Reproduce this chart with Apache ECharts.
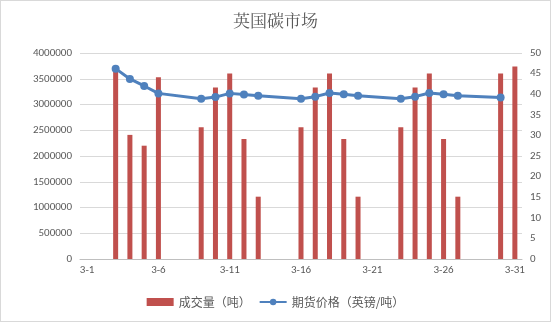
<!DOCTYPE html>
<html>
<head>
<meta charset="utf-8">
<script src="https://cdn.jsdelivr.net/npm/echarts@6/dist/echarts.min.js"></script>
<style>
  html, body { margin: 0; padding: 0; background: #fff; }
  #chart { width: 549px; height: 320px; border: 1px solid #d9d9d9; }
</style>
</head>
<body>
<div id="chart"></div>
<script>
// Trading days of March, one slot per calendar day
const days = [];
for (let d = 1; d <= 31; d++) days.push('3-' + d);

// Traded volume (tonnes); null on days without trading
const volume = [
  null, null, 3680000, 2410000, 2200000, 3530000, null, null, 2560000, 3330000,
  3600000, 2330000, 1210000, null, null, 2560000, 3330000, 3600000, 2330000, 1210000,
  null, null, 2560000, 3330000, 3600000, 2330000, 1210000, null, null, 3600000,
  3740000
];

// Futures price (GBP / tonne)
const price = [
  null, null, 46.2, 43.7, 42.0, 40.2, null, null, 38.9, 39.3,
  40.2, 39.9, 39.6, null, null, 38.9, 39.4, 40.3, 40.0, 39.6,
  null, null, 38.9, 39.4, 40.3, 40.0, 39.6, null, null, 39.2,
  null
];

const volumeTicks = { min: 0, max: 4000000, interval: 500000 };
const priceTicks = { min: 0, max: 50, interval: 5 };

const textColor = '#595959';
const gridColor = '#d9d9d9';
const cjk = '"Microsoft YaHei", "Noto Sans CJK SC", sans-serif';
const latin = 'Calibri, "Liberation Sans", sans-serif';

const chart = echarts.init(document.getElementById('chart'), null, { renderer: 'canvas' });
chart.setOption({
  animation: false,
  title: {
    text: '英国碳市场',
    left: 'center',
    top: 6,
    textStyle: { color: textColor, fontSize: 17, fontWeight: 'normal', fontFamily: '"Noto Serif CJK SC", "Noto Sans CJK SC", serif' }
  },
  legend: {
    bottom: 8,
    left: 'center',
    itemGap: 8,
    itemWidth: 27,
    itemHeight: 8,
    textStyle: { color: textColor, fontSize: 12, fontFamily: cjk },
    data: [
      { name: '成交量（吨）', icon: 'rect' },
      { name: '期货价格（英镑/吨）' }
    ]
  },
  grid: { left: 79, right: 28, top: 52, bottom: 62 },
  xAxis: {
    type: 'category',
    data: days,
    boundaryGap: true,
    axisLine: { lineStyle: { color: '#bfbfbf' } },
    axisTick: { interval: 4, length: 5, lineStyle: { color: '#bfbfbf' } },
    axisLabel: { interval: 4, color: textColor, fontSize: 11, margin: 6, fontFamily: latin }
  },
  yAxis: [
    {
      type: 'value',
      min: volumeTicks.min, max: volumeTicks.max, interval: volumeTicks.interval,
      axisLine: { show: false },
      axisTick: { show: false },
      splitLine: { lineStyle: { color: gridColor } },
      axisLabel: { color: textColor, fontSize: 11, margin: 8, fontFamily: latin, formatter: v => String(v) }
    },
    {
      type: 'value',
      min: priceTicks.min, max: priceTicks.max, interval: priceTicks.interval,
      axisLine: { show: false },
      axisTick: { show: false },
      splitLine: { show: false },
      axisLabel: { color: textColor, fontSize: 11, margin: 8, fontFamily: latin, formatter: v => String(v) }
    }
  ],
  series: [
    {
      name: '成交量（吨）',
      type: 'bar',
      data: volume,
      yAxisIndex: 0,
      barWidth: 5,
      itemStyle: { color: '#c0504d' }
    },
    {
      name: '期货价格（英镑/吨）',
      type: 'line',
      data: price,
      yAxisIndex: 1,
      connectNulls: true,
      symbol: 'circle',
      symbolSize: 8,
      lineStyle: { color: '#4f81bd', width: 3 },
      itemStyle: { color: '#4f81bd' }
    }
  ]
});
</script>
</body>
</html>
